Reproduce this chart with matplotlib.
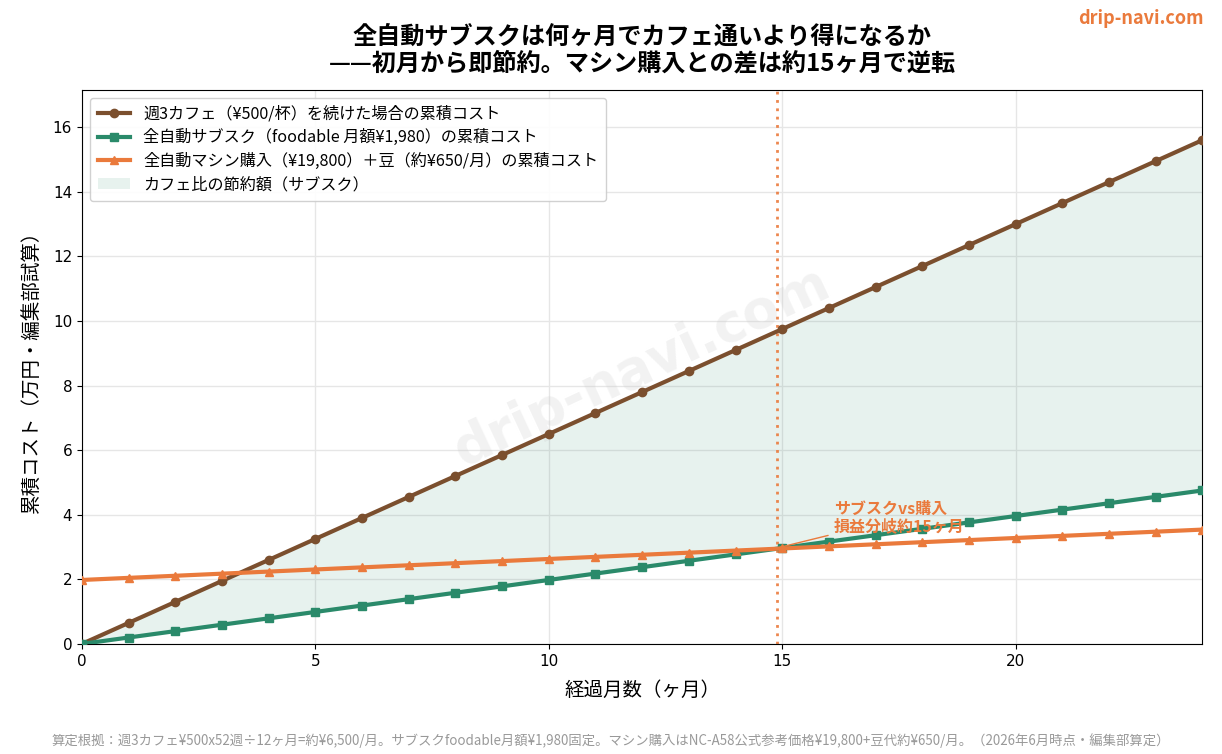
import matplotlib
matplotlib.use("Agg")
import matplotlib.pyplot as plt

plt.rcParams['font.family'] = ['Noto Sans CJK JP', 'DejaVu Sans']

# 経過月数
months = list(range(0, 25))
# 累積コスト（万円）
cafe = [0, 0.65, 1.3, 1.95, 2.6, 3.25, 3.9, 4.55, 5.2, 5.85, 6.5, 7.15, 7.8,
        8.45, 9.1, 9.75, 10.4, 11.05, 11.7, 12.35, 13.0, 13.65, 14.3, 14.95, 15.6]
subsc = [0, 0.198, 0.396, 0.594, 0.792, 0.99, 1.188, 1.386, 1.584, 1.782, 1.98,
         2.178, 2.376, 2.574, 2.772, 2.97, 3.168, 3.366, 3.564, 3.762, 3.96,
         4.158, 4.356, 4.554, 4.752]
machine = [1.98, 2.045, 2.11, 2.175, 2.24, 2.305, 2.37, 2.435, 2.5, 2.565, 2.63,
           2.695, 2.76, 2.825, 2.89, 2.955, 3.02, 3.085, 3.15, 3.215, 3.28,
           3.345, 3.41, 3.475, 3.54]
breakeven = 14.89

c_cafe = '#7b4f2e'
c_sub = '#2a8a6a'
c_mac = '#ea7a3c'

fig, ax = plt.subplots(figsize=(12.22, 7.54), dpi=100)
fig.subplots_adjust(left=0.067, right=0.984, top=0.881, bottom=0.146)

ax.fill_between(months, subsc, cafe, color=c_sub, alpha=0.11, linewidth=0,
                label='カフェ比の節約額（サブスク）')
ax.plot(months, cafe, color=c_cafe, lw=3, marker='o', ms=6,
        label='週3カフェ（¥500/杯）を続けた場合の累積コスト', zorder=3)
ax.plot(months, subsc, color=c_sub, lw=3, marker='s', ms=6,
        label='全自動サブスク（foodable 月額¥1,980）の累積コスト', zorder=3)
ax.plot(months, machine, color=c_mac, lw=3, marker='^', ms=6,
        label='全自動マシン購入（¥19,800）＋豆（約¥650/月）の累積コスト', zorder=3)

ax.axvline(breakeven, color=c_mac, lw=2, ls=(0, (1, 2)), alpha=0.9, zorder=2)

ax.annotate('サブスクvs購入\n損益分岐約15ヶ月', xy=(breakeven, 2.97),
            xytext=(16.1, 3.9), ha='left', va='center', fontsize=11.5,
            fontweight='bold', color=c_mac, linespacing=1.1,
            arrowprops=dict(arrowstyle='-', color=c_mac, lw=1))

ax.text(0.5, 0.5, 'drip-navi.com', transform=ax.transAxes, fontsize=38,
        fontweight='bold', color='#cccccc', alpha=0.25, rotation=25,
        ha='center', va='center', family='DejaVu Sans', zorder=1)

ax.set_xlim(0, 24)
ax.set_ylim(0, 17.16)
ax.set_xticks([0, 5, 10, 15, 20])
ax.set_yticks(range(0, 17, 2))
ax.tick_params(labelsize=11)
for lab in ax.get_xticklabels() + ax.get_yticklabels():
    lab.set_family('DejaVu Sans')
ax.grid(True, color='#e6e6e6', lw=1)
ax.set_axisbelow(True)

ax.set_xlabel('経過月数（ヶ月）', fontsize=14, labelpad=8)
ax.set_ylabel('累積コスト（万円・編集部試算）', fontsize=14, labelpad=8)
ax.set_title('全自動サブスクは何ヶ月でカフェ通いより得になるか\n——初月から即節約。マシン購入との差は約15ヶ月で逆転',
             fontsize=17.4, fontweight='bold', pad=14, linespacing=1.15)

h, l = ax.get_legend_handles_labels()
order = [1, 2, 3, 0]
ax.legend([h[i] for i in order], [l[i] for i in order], loc='upper left',
          fontsize=11.6, framealpha=0.9, borderpad=0.5, labelspacing=0.4)

fig.text(0.985, 0.975, 'drip-navi.com', ha='right', va='center', fontsize=13,
         fontweight='bold', color=c_mac)
fig.text(0.5, 0.008,
         '算定根拠：週3カフェ¥500x52週÷12ヶ月=約¥6,500/月。サブスクfoodable月額¥1,980固定。マシン購入はNC-A58公式参考価格¥19,800+豆代約¥650/月。（2026年6月時点・編集部算定）',
         ha='center', va='bottom', fontsize=9.6, color='#999999')

fig.savefig('out.png', dpi=100)
